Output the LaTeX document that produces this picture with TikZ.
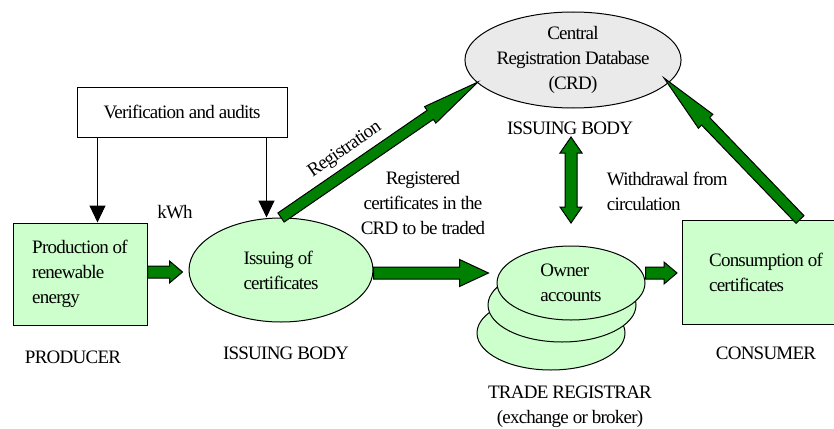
\documentclass[tikz,border=0pt]{standalone}
\usepackage{fontspec}
\setmainfont{Liberation Serif}[LetterSpace=-4]
\usetikzlibrary{arrows.meta,calc,shapes.geometric}
\definecolor{boxgreen}{RGB}{204,255,204}
\definecolor{arrowgreen}{RGB}{0,128,0}
\definecolor{crdgray}{RGB}{234,234,234}
\tikzset{>={Triangle[width=16pt,length=17pt]}}
\tikzset{
  greenbox/.style={draw,fill=boxgreen,align=left},
  greenell/.style={ellipse,draw,fill=boxgreen,inner sep=0pt,align=left},
  accell/.style={greenell,minimum width=148pt,minimum height=74pt},
  fatarrow/.style={fill=arrowgreen,draw=black,line width=1pt,line join=miter}
}
\newcommand{\greenarrow}[5]{%
  \coordinate (fa-b) at ($(#2)!#5!(#1)$);
  \filldraw[fatarrow] ($(#1)!#3!90:(#2)$) -- ($(fa-b)!#3!-90:(#1)$) -- ($(fa-b)!#4!-90:(#1)$) -- (#2)
    -- ($(fa-b)!#4!90:(#1)$) -- ($(fa-b)!#3!90:(#1)$) -- ($(#1)!#3!-90:(#2)$) -- cycle;}
\newcommand{\dblarrow}[5]{%
  \coordinate (da-a) at ($(#1)!#5!(#2)$);
  \coordinate (da-b) at ($(#2)!#5!(#1)$);
  \filldraw[fatarrow] (#1) -- ($(da-a)!#4!90:(#2)$) -- ($(da-a)!#3!90:(#2)$) -- ($(da-b)!#3!-90:(#1)$)
    -- ($(da-b)!#4!-90:(#1)$) -- (#2) -- ($(da-b)!#4!90:(#1)$) -- ($(da-b)!#3!90:(#1)$)
    -- ($(da-a)!#3!-90:(#2)$) -- ($(da-a)!#4!-90:(#2)$) -- cycle;}

\begin{document}
\begin{tikzpicture}[x=1pt,y=-1pt,line width=1pt,font=\fontsize{19}{25}\selectfont]
\useasboundingbox (0,0) rectangle (834,428);

\node [draw,minimum width=210pt,minimum height=50pt] (verif) at (182,112) {Verification and audits};
\node [greenbox,minimum width=134pt,minimum height=102pt] (prod) at (80,274) {Production of\\renewable\\energy};
\node [greenell,minimum width=184pt,minimum height=104pt] (issue) at (281,270) {Issuing of\\certificates};
\node [ellipse,draw,fill=crdgray,minimum width=194pt,minimum height=96pt,inner sep=0pt,align=center] (crd) at (573,60) {Central\\Registration Database\\(CRD)};
\node [accell] (acc3) at (551,333) {};
\node [accell] (acc2) at (562,305) {};
\node [accell] (owner) at (571,283) {Owner\\accounts};
\node [greenbox,minimum width=167pt,minimum height=104pt] (cons) at (766,272) {Consumption of\\certificates};

\node (prodlbl) at (73,357) {PRODUCER};
\node (issuelbl) at (286,353) {ISSUING BODY};
\node (crdlbl) at (570,128) {ISSUING BODY};
\node (conslbl) at (766,353) {CONSUMER};
\node [align=center] (tradelbl) at (570,407) {TRADE REGISTRAR\\(exchange or broker)};
\node (kwh) at (175,212) {kWh};
\node [rotate=34.5] (reglbl) at (345,150) {Registration};
\node [align=center] (traded) at (423,203) {Registered\\certificates in the\\CRD to be traded};
\node [align=left,anchor=west] (withdraw) at (603,191) {Withdrawal from\\circulation};

\draw[->] ($(verif.south west)+(21,0)$) coordinate (v1) -- (v1 |- prod.north);
\draw[->] ($(verif.south east)+(-21,0)$) coordinate (v2) -- (v2 |- issue.north);

\coordinate (b1) at ($(issue.west)+(-6,2)$);
\coordinate (a1) at (prod.east |- b1);
\greenarrow{a1}{b1}{6pt}{11pt}{13pt}
\coordinate (b2) at ($(owner.west)+(-8,-10)$);
\coordinate (a2) at (issue.east |- b2);
\greenarrow{a2}{b2}{6pt}{13.5pt}{29pt}
\coordinate (b3) at ($(cons.west)+(-5,1)$);
\coordinate (a3) at (owner.east |- b3);
\greenarrow{a3}{b3}{6pt}{11pt}{13pt}

\coordinate (regtip) at (478,82);
\greenarrow{issue.north}{regtip}{5.5pt}{10pt}{58pt}
\coordinate (constail) at ($(cons.north west)+(118,0)$);
\coordinate (constip) at (664,78);
\greenarrow{constail}{constip}{5.5pt}{10pt}{60pt}

\coordinate (wdtop) at (571,137);
\coordinate (wdbot) at (571,223);
\dblarrow{wdtop}{wdbot}{6pt}{11pt}{16pt}

\end{tikzpicture}
\end{document}
